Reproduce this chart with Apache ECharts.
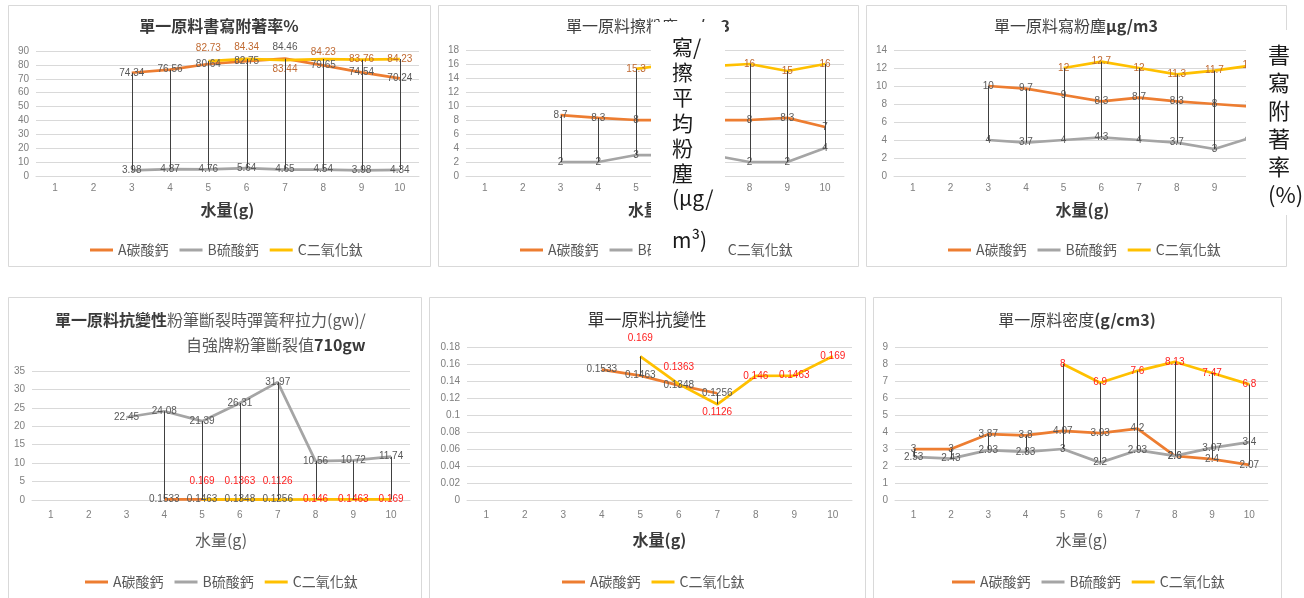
<!DOCTYPE html>
<html>
<head>
<meta charset="utf-8">
<script src="https://cdn.jsdelivr.net/npm/echarts@6/dist/echarts.min.js"></script>
<style>
  html, body { margin: 0; padding: 0; background: #ffffff; }
  #chart { width: 1304px; height: 598px; }
</style>
</head>
<body>
<div id="chart"></div>
<script>
// 水量 (g)
const categories = ['1', '2', '3', '4', '5', '6', '7', '8', '9', '10'];

// 單一原料書寫附著率 (%)
const adhesionA = [null, null, 74.34, 76.56, 80.64, 82.75, 84.46, 79.65, 74.54, 70.24];
const adhesionB = [null, null, 3.98, 4.87, 4.76, 5.64, 4.65, 4.54, 3.98, 4.34];
const adhesionC = [null, null, null, null, 82.73, 84.34, 83.44, 84.23, 83.76, 84.23];

// 單一原料擦粉塵 μg/m3
const eraseDustA = [null, null, 8.7, 8.3, 8, 8, 8, 8, 8.3, 7];
const eraseDustB = [null, null, 2, 2, 3, 3, 3, 2, 2, 4];
const eraseDustC = [null, null, null, null, 15.3, 16, 15.7, 16, 15, 16];

// 單一原料寫粉塵 μg/m3
const writeDustA = [null, null, 10, 9.7, 9, 8.3, 8.7, 8.3, 8, 7.7];
const writeDustB = [null, null, 4, 3.7, 4, 4.3, 4, 3.7, 3, 4.3];
const writeDustC = [null, null, null, null, 12, 12.7, 12, 11.3, 11.7, 12.3];

// 單一原料抗變性 (拉力 gw / 710 gw)
const strengthA = [null, null, null, 0.1533, 0.1463, 0.1348, 0.1256, null, null, null];
const pullB = [null, null, 22.45, 24.08, 21.39, 26.31, 31.97, 10.56, 10.72, 11.74];
const strengthC = [null, null, null, null, 0.169, 0.1363, 0.1126, 0.146, 0.1463, 0.169];

// 單一原料密度 (g/cm3)
const densityA = [3, 3, 3.87, 3.8, 4.07, 3.93, 4.2, 2.6, 2.4, 2.07];
const densityB = [2.53, 2.43, 2.93, 2.83, 3, 2.2, 2.93, 2.6, 3.07, 3.4];
const densityC = [null, null, null, null, 8, 6.9, 7.6, 8.13, 7.47, 6.8];

const axisTitle = '水量(g)';
const SERIES_NAME = { A: 'A碳酸鈣', B: 'B硫酸鈣', C: 'C二氧化鈦' };

// ---- styling ----
const CJK = '"Noto Sans CJK TC", "Noto Sans", sans-serif';
const NUM = '"Liberation Sans", "Noto Sans", sans-serif';
const SERIES_COLOR = { A: '#ED7D31', B: '#A5A5A5', C: '#FFC000' };
const GRAY_LABEL = '#595959';
const BROWN_LABEL = '#c06a32';
const RED_LABEL = '#ff2020';
const GRID_LINE = '#d9d9d9';
const TICK_COLOR = '#7f7f7f';

const panels = [
  {
    box: [8, 5, 430, 266],
    grid: { left: 36, top: 51, width: 383, height: 125 },
    yMax: 90, yInterval: 10,
    series: { A: adhesionA, B: adhesionB, C: adhesionC },
    labelColor: { A: GRAY_LABEL, B: GRAY_LABEL, C: BROWN_LABEL },
    labelShift: { A: { 6: -11 }, C: { 4: -13, 5: -12, 6: 9, 7: -7 } },
    nameBold: true, nameGap: 26, tickMargin: 7,
    legendLeft: 85, legendTop: 238
  },
  {
    box: [438, 5, 858, 266],
    grid: { left: 466, top: 50, width: 378, height: 126 },
    yMax: 18, yInterval: 2,
    series: { A: eraseDustA, B: eraseDustB, C: eraseDustC },
    labelColor: { A: GRAY_LABEL, B: GRAY_LABEL, C: BROWN_LABEL },
    labelShift: {},
    nameBold: true, nameGap: 26, tickMargin: 7,
    legendLeft: 515, legendTop: 238
  },
  {
    box: [866, 5, 1286, 266],
    grid: { left: 894, top: 50, width: 377, height: 126 },
    yMax: 14, yInterval: 2,
    series: { A: writeDustA, B: writeDustB, C: writeDustC },
    labelColor: { A: GRAY_LABEL, B: GRAY_LABEL, C: BROWN_LABEL },
    labelShift: {},
    nameBold: true, nameGap: 26, tickMargin: 7,
    legendLeft: 943, legendTop: 238
  },
  {
    box: [8, 297, 421, 600],
    grid: { left: 32, top: 371, width: 378, height: 129 },
    yMax: 35, yInterval: 5,
    series: { A: strengthA, B: pullB, C: strengthC },
    labelColor: { A: GRAY_LABEL, B: GRAY_LABEL, C: RED_LABEL },
    labelShift: { C: { 4: -18, 5: -18, 6: -18 } },
    nameBold: false, nameGap: 32, tickMargin: 10,
    legendLeft: 80, legendTop: 570
  },
  {
    box: [429, 297, 865, 600],
    grid: { left: 467, top: 347, width: 385, height: 153 },
    yMax: 0.18, yInterval: 0.02,
    series: { A: strengthA, C: strengthC },
    labelColor: { A: GRAY_LABEL, C: RED_LABEL },
    labelShift: { C: { 4: -18, 5: -17, 6: 8 } },
    nameBold: true, nameGap: 32, tickMargin: 10,
    legendLeft: 557, legendTop: 570
  },
  {
    box: [873, 297, 1281, 600],
    grid: { left: 895, top: 347, width: 373, height: 153 },
    yMax: 9, yInterval: 1,
    series: { A: densityA, B: densityB, C: densityC },
    labelColor: { A: GRAY_LABEL, B: GRAY_LABEL, C: RED_LABEL },
    labelShift: {},
    nameBold: false, nameGap: 32, tickMargin: 10,
    legendLeft: 947, legendTop: 570
  }
];

// highest-to-lowest connector at every category holding two or more values
function hiLowPairs(lists) {
  const out = [];
  categories.forEach((c, i) => {
    const vals = lists.map(l => l[i]).filter(v => v !== null && v !== undefined);
    if (vals.length >= 2) out.push([i, Math.max(...vals), Math.min(...vals)]);
  });
  return out;
}

const grids = [], xAxes = [], yAxes = [], series = [], legends = [], graphics = [];

panels.forEach((p, idx) => {
  grids.push(Object.assign({ containLabel: false, outerBoundsMode: 'none' }, p.grid));

  xAxes.push({
    gridIndex: idx, type: 'category', data: categories, boundaryGap: true,
    axisLine: { show: true, lineStyle: { color: GRID_LINE, width: 1 } },
    axisTick: { show: false },
    axisLabel: { color: TICK_COLOR, fontSize: 10, fontFamily: NUM, margin: p.tickMargin, interval: 0 },
    name: axisTitle, nameLocation: 'middle', nameGap: p.nameGap,
    nameTextStyle: {
      fontFamily: CJK, fontSize: 16,
      fontWeight: p.nameBold ? 'bold' : 'normal',
      color: p.nameBold ? '#3a3a3a' : '#595959'
    }
  });

  yAxes.push({
    gridIndex: idx, type: 'value', min: 0, max: p.yMax, interval: p.yInterval,
    axisLine: { show: false }, axisTick: { show: false },
    axisLabel: { color: TICK_COLOR, fontSize: 10, fontFamily: NUM, margin: 7 },
    splitLine: { show: true, lineStyle: { color: GRID_LINE, width: 1 } }
  });

  const keys = Object.keys(p.series);
  keys.forEach(k => {
    const shift = p.labelShift[k] || {};
    const data = p.series[k].map((v, i) =>
      (v !== null && shift[i] !== undefined) ? { value: v, label: { offset: [0, shift[i]] } } : v
    );
    series.push({
      type: 'line', name: SERIES_NAME[k], xAxisIndex: idx, yAxisIndex: idx,
      data: data, color: SERIES_COLOR[k],
      symbol: 'circle', symbolSize: 0, showSymbol: true,
      lineStyle: { color: SERIES_COLOR[k], width: 2.75 },
      label: {
        show: true, position: 'inside', color: p.labelColor[k],
        fontSize: 10, fontFamily: NUM
      },
      silent: true, z: 2, animation: false
    });
  });

  series.push({
    type: 'custom', name: 'hilo' + idx, xAxisIndex: idx, yAxisIndex: idx,
    data: hiLowPairs(keys.map(k => p.series[k])),
    encode: { x: 0, y: [1, 2] },
    renderItem: function (params, api) {
      const top = api.coord([api.value(0), api.value(1)]);
      const bottom = api.coord([api.value(0), api.value(2)]);
      const x = Math.round(top[0]) + 0.5;
      return {
        type: 'line',
        shape: { x1: x, y1: top[1], x2: x, y2: bottom[1] },
        style: { stroke: '#404040', lineWidth: 1 }
      };
    },
    silent: true, z: 3, animation: false
  });

  legends.push({
    data: keys.map(k => SERIES_NAME[k]),
    left: p.legendLeft, top: p.legendTop,
    orient: 'horizontal', icon: 'rect', itemWidth: 23, itemHeight: 3, itemGap: 11,
    selectedMode: false,
    textStyle: { color: '#595959', fontSize: 14, fontFamily: CJK }
  });

  const b = p.box;
  graphics.push({
    type: 'rect', silent: true, z: 0,
    shape: { x: b[0] + 0.5, y: b[1] + 0.5, width: b[2] - b[0], height: b[3] - b[1] },
    style: { fill: 'none', stroke: '#d9d9d9', lineWidth: 1 }
  });
});

// chart titles
function titleText(x, y, text, rich, align) {
  return {
    type: 'text', x: x, y: y, silent: true, z: 10,
    style: { text: text, rich: rich, align: align || 'center', verticalAlign: 'middle' }
  };
}
const richBase = {
  b: { fontFamily: CJK, fontSize: 16, fontWeight: 'bold', fill: '#3a3a3a' },
  n: { fontFamily: CJK, fontSize: 16, fontWeight: 'normal', fill: '#404040' },
  g: { fontFamily: CJK, fontSize: 16, fontWeight: 'normal', fill: '#595959' },
  t: { fontFamily: CJK, fontSize: 17, fontWeight: 'normal', fill: '#333333' }
};
graphics.push(titleText(219, 26, '{b|單一原料書寫附著率%}', richBase));
graphics.push(titleText(648, 26, '{n|單一原料擦粉塵}{b|μg/m3}', richBase));
graphics.push(titleText(1076, 26, '{n|單一原料寫粉塵}{b|μg/m3}', richBase));
graphics.push(titleText(55, 320, '{b|單一原料抗變性}{g|粉筆斷裂時彈簧秤拉力(gw)/}', richBase, 'left'));
graphics.push(titleText(186, 345, '{g|自強牌粉筆斷裂值}{b|710gw}', richBase, 'left'));
graphics.push(titleText(647, 320, '{t|單一原料抗變性}', richBase));
graphics.push(titleText(1077, 320, '{n|單一原料密度}{b|(g/cm3)}', richBase));

// vertical caption boxes laid over the top row
graphics.push({
  type: 'rect', silent: true, z: 100,
  shape: { x: 651, y: 22, width: 74, height: 236 },
  style: { fill: '#ffffff' }
});
graphics.push({
  type: 'text', silent: true, z: 101, x: 672, y: 34,
  style: {
    text: '寫/\n擦\n平\n均\n粉\n塵\n(μg/', fontFamily: CJK, fontSize: 21,
    lineHeight: 25.3, fill: '#1a1a1a', align: 'left', verticalAlign: 'top'
  }
});
graphics.push({
  type: 'text', silent: true, z: 101, x: 672, y: 240,
  style: {
    text: 'm³)', fontFamily: CJK, fontSize: 21, fill: '#1a1a1a',
    align: 'left', verticalAlign: 'middle'
  }
});
graphics.push({
  type: 'rect', silent: true, z: 100,
  shape: { x: 1246, y: 30, width: 58, height: 185 },
  style: { fill: '#ffffff' }
});
graphics.push({
  type: 'text', silent: true, z: 101, x: 1268, y: 41,
  style: {
    text: '書\n寫\n附\n著\n率\n(%)', fontFamily: CJK, fontSize: 22,
    lineHeight: 28, fill: '#1a1a1a', align: 'left', verticalAlign: 'top'
  }
});

const chart = echarts.init(document.getElementById('chart'), null, { renderer: 'canvas' });
chart.setOption({
  backgroundColor: '#ffffff',
  animation: false,
  grid: grids,
  xAxis: xAxes,
  yAxis: yAxes,
  legend: legends,
  series: series,
  graphic: { elements: graphics }
});
</script>
</body>
</html>
